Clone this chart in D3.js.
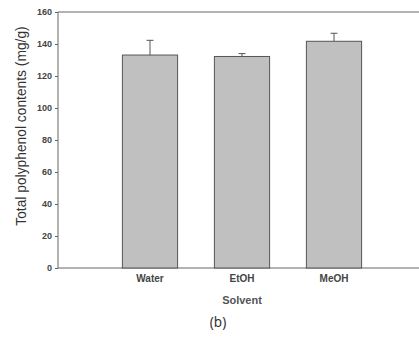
<!DOCTYPE html>
<html>
<head>
<meta charset="utf-8">
<script src="https://cdn.jsdelivr.net/npm/d3@7"></script>
<style>
  body { margin: 0; background: #fff; }
  svg { display: block; }
</style>
</head>
<body>
<div id="chart"></div>
<script>
const categories = ['Water', 'EtOH', 'MeOH'];
const values = [133.1, 132.2, 141.7];
const errors = [9.2, 1.8, 5.0];
const yTicks = [0, 20, 40, 60, 80, 100, 120, 140, 160];

const width = 419, height = 338;
const margin = {top: 12, left: 58, bottom: 70};
const plotBottom = height - margin.bottom; // ~268

const svg = d3.select('#chart').append('svg')
  .attr('width', width).attr('height', height);

const x = d3.scaleBand().domain(categories).range([104, 380])
  .paddingInner(0.4).paddingOuter(0.2);
const y = d3.scaleLinear().domain([0, 160]).range([plotBottom, margin.top]);

// frame (right side is cut off in the reference)
svg.append('path')
  .attr('d', 'M' + (width + 5) + ',' + margin.top + 'H' + margin.left + 'V' + plotBottom + 'H' + (width + 5))
  .attr('fill', 'none').attr('stroke', '#666').attr('stroke-width', 1);

// bars
svg.selectAll('rect.bar').data(categories).enter()
  .append('rect')
  .attr('class', 'bar')
  .attr('x', d => x(d))
  .attr('y', (d, i) => y(values[i]))
  .attr('width', x.bandwidth())
  .attr('height', (d, i) => plotBottom - y(values[i]))
  .attr('fill', '#c0c0c0')
  .attr('stroke', '#555')
  .attr('stroke-width', 1);

// error bars
const err = svg.selectAll('g.err').data(categories).enter().append('g')
  .attr('class', 'err').attr('stroke', '#555').attr('stroke-width', 1);
err.append('line')
  .attr('x1', d => x(d) + x.bandwidth() / 2).attr('x2', d => x(d) + x.bandwidth() / 2)
  .attr('y1', (d, i) => y(values[i])).attr('y2', (d, i) => y(values[i] + errors[i]));
err.append('line')
  .attr('x1', d => x(d) + x.bandwidth() / 2 - 3.5).attr('x2', d => x(d) + x.bandwidth() / 2 + 3.5)
  .attr('y1', (d, i) => y(values[i] + errors[i])).attr('y2', (d, i) => y(values[i] + errors[i]));

// y axis
const yAxis = d3.axisLeft(y).tickValues(yTicks).tickSize(3).tickPadding(3);
const gy = svg.append('g')
  .attr('transform', 'translate(' + margin.left + ',0)')
  .call(yAxis);
gy.select('.domain').remove();
gy.selectAll('line').attr('stroke', '#666');
gy.selectAll('text')
  .attr('font-family', 'Liberation Sans, Arial, sans-serif')
  .attr('font-size', '9px').attr('font-weight', 'bold').attr('fill', '#444');

// x axis labels
const xAxis = d3.axisBottom(x).tickSize(0).tickPadding(7);
const gx = svg.append('g')
  .attr('transform', 'translate(0,' + plotBottom + ')')
  .call(xAxis);
gx.select('.domain').remove();
gx.selectAll('text')
  .attr('font-family', 'Liberation Sans, Arial, sans-serif')
  .attr('font-size', '10px').attr('font-weight', 'bold').attr('fill', '#444');

// titles
svg.append('text')
  .attr('transform', 'translate(26,' + 126 + ') rotate(-90)')
  .attr('text-anchor', 'middle')
  .attr('font-family', 'Liberation Sans, Arial, sans-serif')
  .attr('font-size', '13.8px').attr('fill', '#333')
  .text('Total polyphenol contents (mg/g)');

svg.append('text')
  .attr('x', 242).attr('y', 304)
  .attr('text-anchor', 'middle')
  .attr('font-family', 'Liberation Sans, Arial, sans-serif')
  .attr('font-size', '11px').attr('font-weight', 'bold').attr('fill', '#555')
  .text('Solvent');

svg.append('text')
  .attr('x', 218).attr('y', 327)
  .attr('text-anchor', 'middle')
  .attr('font-family', 'Noto Sans, sans-serif')
  .attr('font-size', '13.5px').attr('fill', '#333')
  .text('(b)');
</script>
</body>
</html>
